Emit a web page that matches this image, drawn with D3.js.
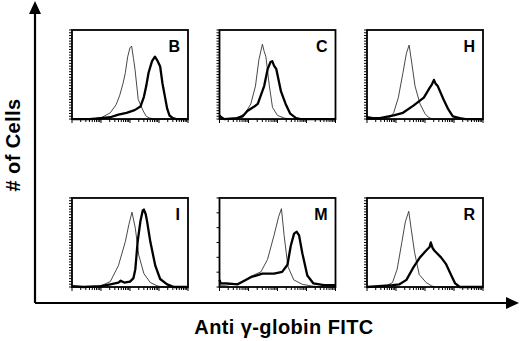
<!DOCTYPE html>
<html lang="en">
<head>
  <meta charset="UTF-8">
  <title># of Cells vs Anti γ-globin FITC</title>
  <script src="https://d3js.org/d3.v7.min.js"></script>
  <style>
    body { margin: 0; background: #fff; }
    svg { display: block; }
    .title { font-family: "Liberation Sans", Arial, sans-serif; font-weight: bold; font-size: 20px; letter-spacing: 0.4px; fill: #000; }
    .letter { font-family: "Liberation Sans", Arial, sans-serif; font-weight: bold; font-size: 16px; fill: #000; }
  </style>
</head>
<body>
  <svg id="chart" width="520" height="341"></svg>
  <script>
    // panel order: row by row
    const letters = ["B", "C", "H", "I", "M", "R"];

    // histograms as [channel (0-1000), count (% of panel height)]
    const ctrlB = [[0,0],[180,0],[260,2],[330,7],[380,16],[410,26],[440,40],[460,52],[480,70],[500,80],[514,82],[530,68],[543,56],[571,22],[614,9],[640,3],[671,1],[720,0],[1000,0]];
    const testB = [[0,0],[150,0],[250,1],[330,2],[400,5],[470,7],[540,10],[590,14],[620,25],[640,37],[660,52],[690,65],[715,70],[735,66],[760,59],[780,40],[800,26],[820,12],[840,4],[870,1],[900,0],[1000,0]];

    const ctrlC = [[0,0],[120,0],[160,2],[220,6],[270,17],[310,37],[340,67],[370,84],[385,76],[400,70],[430,37],[457,13],[500,4],[560,1],[620,0],[1000,0]];
    const testC = [[0,4],[15,2],[40,0],[150,1],[200,3],[240,9],[300,14],[330,17],[385,37],[415,56],[440,64],[455,65],[470,60],[490,56],[530,31],[570,17],[610,6],[660,1],[700,0],[1000,0]];

    const ctrlH = [[0,0],[150,0],[200,2],[230,7],[270,24],[310,52],[340,74],[363,83],[386,63],[414,37],[457,17],[500,6],[530,2],[560,0],[1000,0]];
    const testH = [[0,2],[50,1],[110,1],[230,4],[310,7],[400,15],[490,24],[540,35],[560,39],[577,44],[590,40],[610,37],[660,22],[700,11],[740,3],[800,1],[850,0],[1000,0]];

    const ctrlI = [[0,0],[200,0],[260,2],[330,6],[400,24],[460,51],[490,70],[517,84],[546,66],[575,36],[620,15],[675,5],[740,1],[800,0],[1000,0]];
    const testI = [[0,1],[100,0],[250,1],[330,3],[400,5],[420,7],[450,5],[500,6],[530,10],[546,20],[566,51],[590,74],[610,86],[620,87],[635,82],[647,74],[675,51],[718,24],[760,9],[820,3],[880,0],[1000,0]];

    const ctrlM = [[0,2],[50,2],[157,4],[200,6],[270,12],[357,17],[414,31],[470,58],[510,79],[534,88],[557,58],[590,23],[640,8],[714,3],[800,1],[900,0],[1000,0]];
    const testM = [[0,8],[10,4],[60,4],[157,3],[270,11],[370,15],[470,15],[540,17],[586,25],[614,46],[643,60],[666,62],[686,58],[714,38],[757,13],[810,4],[900,2],[1000,2]];

    const ctrlR = [[0,0],[150,0],[220,5],[260,20],[300,50],[330,73],[360,85],[380,66],[410,39],[450,14],[510,5],[560,1],[600,0],[1000,0]];
    const testR = [[0,0],[100,1],[220,2],[280,3],[340,8],[400,22],[455,33],[510,41],[540,45],[550,50],[565,44],[580,41],[640,33],[680,26],[730,12],[760,4],[800,0],[1000,0]];

    const controls = [ctrlB, ctrlC, ctrlH, ctrlI, ctrlM, ctrlR];
    const samples = [testB, testC, testH, testI, testM, testR];
    // number of little count ticks on each panel's left edge
    const yTickCounts = [32, 32, 32, 32, 6, 32];

    const svg = d3.select("#chart");

    const col = d3.scaleBand().domain([0, 1, 2]).range([72, 483]).paddingInner(0.2136);
    const row = d3.scaleBand().domain([0, 1]).range([30, 287]).paddingInner(0.47);

    const x = d3.scaleLinear().domain([0, 1000]).range([0, col.bandwidth()]);
    const y = d3.scaleLinear().domain([0, 100]).range([row.bandwidth(), 0]);
    const xLog = d3.scaleLog().domain([1, 10000]).range([0, col.bandwidth()]);

    const line = d3.line()
      .x(d => x(d[0]))
      .y(d => y(d[1]));

    letters.forEach((L, i) => {
      const g = svg.append("g")
        .attr("transform", `translate(${col(i % 3)},${row(Math.floor(i / 3))})`);

      // left count ticks
      const n = yTickCounts[i];
      const yt = d3.range(n + 1).map(k => k * 100 / n);
      g.selectAll(".yt").data(yt).join("line")
        .attr("x1", -3).attr("x2", 0)
        .attr("y1", d => y(d)).attr("y2", d => y(d))
        .attr("stroke", "#000").attr("stroke-width", 1);

      // log ticks on the bottom
      g.selectAll(".xt").data(xLog.ticks()).join("line")
        .attr("x1", d => xLog(d)).attr("x2", d => xLog(d))
        .attr("y1", row.bandwidth()).attr("y2", d => row.bandwidth() + (Math.log10(d) % 1 === 0 ? 4 : 3))
        .attr("stroke", "#000").attr("stroke-width", 1);

      g.append("path").datum(controls[i])
        .attr("d", line)
        .attr("fill", "none").attr("stroke", "#333").attr("stroke-width", 0.9);

      g.append("path").datum(samples[i])
        .attr("d", line)
        .attr("fill", "none").attr("stroke", "#000").attr("stroke-width", 2.3)
        .attr("stroke-linejoin", "round");

      g.append("rect")
        .attr("width", col.bandwidth()).attr("height", row.bandwidth())
        .attr("fill", "none").attr("stroke", "#000").attr("stroke-width", 1.8);

      g.append("text").attr("class", "letter")
        .attr("x", col.bandwidth() - 8).attr("y", 22)
        .attr("text-anchor", "end")
        .text(L);
    });

    // big arrow axes
    svg.append("path")
      .attr("d", "M35,303V12 M35,303H508")
      .attr("fill", "none").attr("stroke", "#000").attr("stroke-width", 2.2);
    svg.append("path").attr("d", "M29,14L35,1L41,14Z").attr("fill", "#000");
    svg.append("path").attr("d", "M506,297L519,303L506,309Z").attr("fill", "#000");

    svg.append("text").attr("class", "title")
      .attr("transform", "translate(20,145) rotate(-90)")
      .attr("text-anchor", "middle")
      .text("# of Cells");

    svg.append("text").attr("class", "title")
      .attr("x", 284).attr("y", 334)
      .attr("text-anchor", "middle")
      .text("Anti γ-globin FITC");
  </script>
</body>
</html>
